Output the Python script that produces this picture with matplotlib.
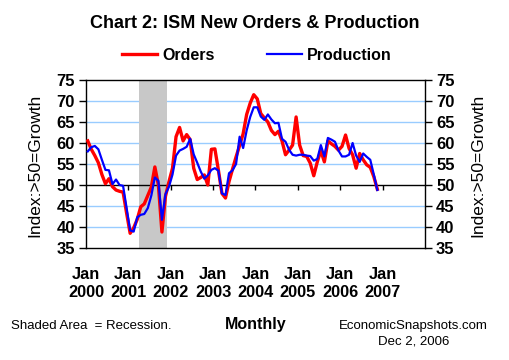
"""ISM New Orders & Production, monthly index, 2000-2006."""

import matplotlib

matplotlib.use("Agg")

import matplotlib.pyplot as plt  # noqa: E402
import numpy as np  # noqa: E402

# ---------------------------------------------------------------------------
# Data (monthly, Jan 2000 .. Nov 2006)
# ---------------------------------------------------------------------------
ORDERS = [
    60.5, 58.5, 57.0, 55.3, 52.5, 50.3, 51.5, 49.6, 48.8, 48.5, 48.3, 43.3,  # 2000
    38.5, 39.8, 41.8, 44.8, 45.5, 47.5, 49.5, 54.3, 50.0, 38.8, 47.3, 50.8,  # 2001
    54.0, 61.5, 63.7, 60.5, 62.0, 60.8, 54.0, 51.3, 51.8, 52.4, 50.0, 58.5,  # 2002
    58.6, 53.5, 48.0, 46.9, 50.8, 53.8, 56.7, 59.4, 62.2, 66.8, 69.5, 71.5,  # 2003
    70.5, 67.0, 66.0, 65.0, 63.0, 62.0, 62.8, 60.5, 57.2, 58.3, 59.5, 66.2,  # 2004
    59.5, 57.0, 56.8, 55.2, 52.2, 55.5, 58.2, 55.5, 60.5, 59.8, 59.2, 58.3,  # 2005
    59.2, 61.9, 58.7, 57.2, 54.0, 57.5, 56.0, 54.8, 54.2, 52.0, 49.0,        # 2006
]

PRODUCTION = [
    58.0, 59.0, 59.3, 58.5, 56.0, 53.6, 53.5, 50.2, 51.3, 50.0, 49.8, 44.5,  # 2000
    39.2, 38.9, 42.3, 42.9, 43.1, 44.5, 47.5, 51.8, 51.0, 41.7, 47.8, 49.6,  # 2001
    52.5, 57.0, 58.2, 58.6, 59.1, 61.0, 57.3, 55.3, 53.2, 51.5, 52.3, 53.6,  # 2002
    54.0, 53.4, 48.0, 47.6, 52.8, 53.5, 55.0, 61.5, 58.8, 63.0, 66.2, 68.5,  # 2003
    68.5, 66.3, 65.5, 66.8, 65.6, 64.7, 64.8, 61.0, 60.3, 58.4, 57.2, 57.0,  # 2004
    57.2, 57.2, 57.0, 56.9, 55.8, 56.2, 59.5, 56.8, 61.2, 60.8, 60.3, 58.2,  # 2005
    56.8, 56.8, 57.2, 60.0, 57.0, 55.5, 57.5, 56.7, 56.0, 52.5, 48.8,        # 2006
]

YEARS = [2000, 2001, 2002, 2003, 2004, 2005, 2006, 2007]
TICK_LABELS = [f"Jan\n{y}" for y in YEARS]

# recession shading, in months since Jan 2000 (Apr 2001 .. Nov 2001)
RECESSION_MONTHS = (15, 23)

# ---------------------------------------------------------------------------
# Style
# ---------------------------------------------------------------------------
FONT = "Liberation Sans"
RED = "#FF0000"
BLUE = "#0000FF"
GRID = "#99CCFF"
SHADE = "#C8C8C8"

plt.rcParams["font.family"] = [FONT, "DejaVu Sans"]

fig = plt.figure(figsize=(5.1, 3.6), dpi=100)
ax = fig.add_axes([86 / 510, 1 - 248 / 360, 339 / 510, 168 / 360])

x = np.arange(len(ORDERS)) + 0.5
n_months = 12 * len(YEARS)

ax.axvspan(*RECESSION_MONTHS, color=SHADE, lw=0, zorder=1)
for level in (40, 45, 55, 60, 65, 70):
    ax.axhline(level, color=GRID, lw=1.0, zorder=0)
ax.axhline(50, color="black", lw=1.0, zorder=2)

ax.plot(x, ORDERS, color=RED, lw=2.4, zorder=3, label="Orders")
ax.plot(x, PRODUCTION, color=BLUE, lw=1.6, zorder=4, label="Production")

# tick marks sit on the 50 line, labels at the bottom
ticks = np.arange(0, n_months, 12)
ax.vlines(ticks[1:], 48.8, 50, color="black", lw=1.0, zorder=2)
ax.set_xticks(ticks)
ax.set_xticklabels(TICK_LABELS, fontsize=11.8, fontweight="bold", linespacing=1.25)
ax.tick_params(axis="x", length=0, pad=14)

ax.set_xlim(0, n_months)
ax.set_ylim(35, 75)
ax.set_yticks(range(35, 80, 5))
ax.tick_params(axis="y", direction="out", length=5, width=1.0, labelsize=12,
               right=True, labelright=True, pad=3)
for lab in ax.get_yticklabels():
    lab.set_fontweight("bold")
for spine in ax.spines.values():
    spine.set_linewidth(1.0)

fig.text(35 / 510, 1 - 165 / 360, "Index:>50=Growth", rotation=90,
         ha="center", va="center", fontsize=12.5)
fig.text(478 / 510, 1 - 165 / 360, "Index:>50=Growth", rotation=90,
         ha="center", va="center", fontsize=12.5)

fig.text(255 / 510, 1 - 23 / 360, "Chart 2: ISM New Orders & Production",
         ha="center", va="center", fontsize=13, fontweight="bold")

fig.legend(loc="center", bbox_to_anchor=(257 / 510, 1 - 55 / 360), ncol=2,
           frameon=False, prop={"size": 11.5, "weight": "bold"},
           handlelength=2.2, handletextpad=0.3, columnspacing=3.3)

fig.text(11 / 510, 1 - 326 / 360, "Shaded Area  = Recession.",
         ha="left", va="center", fontsize=9.5)
fig.text(256 / 510, 1 - 325 / 360, "Monthly",
         ha="center", va="center", fontsize=11.5, fontweight="bold")
fig.text(413 / 510, 1 - 326 / 360, "EconomicSnapshots.com",
         ha="center", va="center", fontsize=9.5)
fig.text(414 / 510, 1 - 342 / 360, "Dec 2, 2006",
         ha="center", va="center", fontsize=9.5)

fig.savefig("out.png", dpi=100)
